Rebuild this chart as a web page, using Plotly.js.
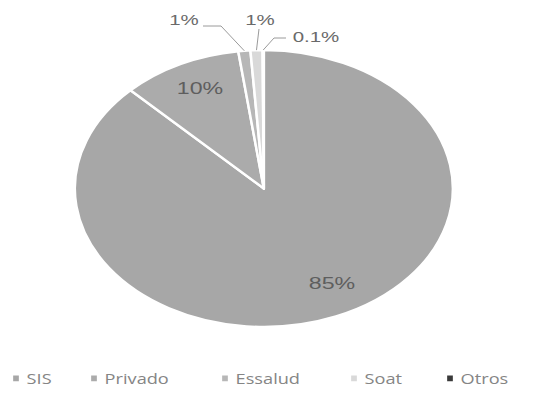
<!DOCTYPE html>
<html>
<head>
<meta charset="utf-8">
<script src="https://cdn.plot.ly/plotly-3.0.1.min.js"></script>
<style>
html,body{margin:0;padding:0;background:#fff;}
#chart{width:533px;height:403px;}
</style>
</head>
<body>
<div id="chart"></div>
<script>
// Data
const categories = ['SIS', 'Privado', 'Essalud', 'Soat', 'Otros'];
const values = [85, 10, 1, 1, 0.1];
const labelsText = ['85%', '10%', '1%', '1%', '0.1%'];
const sliceColors = ['#a7a7a7', '#ababab', '#b7b7b7', '#d9d9d9', '#3a3a3a'];
const textPositions = ['inside', 'inside', 'outside', 'outside', 'outside'];

// Layout helpers (screen positions of labels / legend entries)
const labelCentres = [[332, 283], [200, 88], [184, 20], [260, 20], [316, 37]];
const leaderPaths = [null, null, [[203, 26], [221, 26]], [[259, 29]], [[286, 38], [274, 38]]];
const legendMarkerX = [16, 94, 225, 354, 450];
const pieHalfWidth = 189;   // the reference pie is an ellipse

const trace = {
  type: 'pie',
  labels: categories,
  values: values,
  text: labelsText,
  textinfo: 'text',
  textposition: textPositions,
  insidetextorientation: 'horizontal',
  sort: false,
  direction: 'clockwise',
  rotation: 0,
  marker: {colors: sliceColors, line: {color: '#ffffff', width: 2.5}},
  insidetextfont: {family: 'Liberation Sans, Arial, sans-serif', size: 17, color: '#5e5e5e'},
  outsidetextfont: {family: 'Liberation Sans, Arial, sans-serif', size: 15, color: '#6a6a6a'},
  domain: {x: [0, 0.99], y: [0.1886, 0.8759]},
  hoverinfo: 'none'
};

const layout = {
  width: 533,
  height: 403,
  margin: {l: 0, r: 0, t: 0, b: 0},
  paper_bgcolor: '#ffffff',
  showlegend: true,
  legend: {
    orientation: 'h',
    x: 0.5, xanchor: 'center',
    y: 0.06, yanchor: 'middle',
    font: {family: 'Open Sans, sans-serif', size: 14, color: '#858585'},
    itemclick: false, itemdoubleclick: false
  }
};

Plotly.newPlot('chart', [trace], layout, {displayModeBar: false, staticPlot: true}).then(function (gd) {
  const svg = gd.querySelector('.main-svg');
  const layer = svg.querySelector('.pielayer');
  const cd = gd.calcdata[0];
  const cx = cd[0].cx, cy = cd[0].cy;
  const r = cd[0].r;
  const sx = pieHalfWidth / r;
  layer.setAttribute('transform', 'translate(' + cx + ',0) scale(' + sx + ',1) translate(' + (-cx) + ',0)');
  layer.querySelectorAll('path').forEach(function (p) { p.style.vectorEffect = 'non-scaling-stroke'; });
  const toLayerX = function (X) { return cx + (X - cx) / sx; };

  const slices = layer.querySelectorAll('g.slice');
  slices.forEach(function (g, k) {
    const pt = cd[k];
    const idx = pt.i;
    const txt = g.querySelector('g.slicetext text');
    if (!txt) return;
    const b = txt.getBoundingClientRect();
    const target = labelCentres[idx];
    const dX = (target[0] - (b.left + b.width / 2)) / sx;
    const dY = target[1] - (b.top + b.height / 2);
    const tg = g.querySelector('g.slicetext');
    const old = tg.getAttribute('transform') || '';
    tg.setAttribute('transform', 'translate(' + dX + ',' + dY + ') ' + old);
    const leader = leaderPaths[idx];
    let line = g.querySelector('path.textline');
    if (leader) {
      if (!line) {
        line = document.createElementNS('http://www.w3.org/2000/svg', 'path');
        line.setAttribute('class', 'textline');
        g.appendChild(line);
      }
      const pts = leader.map(function (p) { return toLayerX(p[0]) + ',' + p[1]; });
      pts.push((cx + pt.pxmid[0]) + ',' + (cy + pt.pxmid[1]));
      line.setAttribute('d', 'M' + pts.join('L'));
      line.style.stroke = '#9a9a9a';
      line.style.strokeWidth = '1px';
      line.style.fill = 'none';
      line.style.vectorEffect = 'non-scaling-stroke';
    } else if (line) {
      line.remove();
    }
  });

  // Legend entries: small squares, stretched text, spacing as in the reference
  gd.querySelectorAll('.legend [clip-path]').forEach(function (e) { e.removeAttribute('clip-path'); });
  const legendEl = gd.querySelector('.legend');
  if (legendEl && legendEl.hasAttribute('clip-path')) legendEl.removeAttribute('clip-path');
  const items = gd.querySelectorAll('.legend g.traces');
  items.forEach(function (item, k) {
    const pth = item.querySelector('.legendpoints path');
    const t0 = pth.getAttribute('transform') || '';
    pth.setAttribute('transform', t0 + ' scale(0.6)');
    const mb = pth.getBoundingClientRect();
    const mc = mb.left + mb.width / 2;
    const tr = item.getAttribute('transform') || 'translate(0,0)';
    const m = /translate\(\s*([-\d.e]+)[ ,]+([-\d.e]+)\s*\)/.exec(tr);
    const tx = parseFloat(m[1]), ty = parseFloat(m[2]);
    item.setAttribute('transform', 'translate(' + (tx + legendMarkerX[k] - mc) + ',' + ty + ')');
    const text = item.querySelector('text.legendtext');
    const mb2 = pth.getBoundingClientRect();
    const tb = text.getBoundingClientRect();
    const curX = parseFloat(text.getAttribute('x'));
    const newX = curX + (mb2.right + 7 - tb.left);
    text.setAttribute('x', newX);
    text.querySelectorAll('tspan').forEach(function (ts) { if (ts.getAttribute('x')) ts.setAttribute('x', newX); });
    text.setAttribute('transform', 'translate(' + newX + ',0) scale(1.3,1) translate(' + (-newX) + ',0)');
  });
});
</script>
</body>
</html>
